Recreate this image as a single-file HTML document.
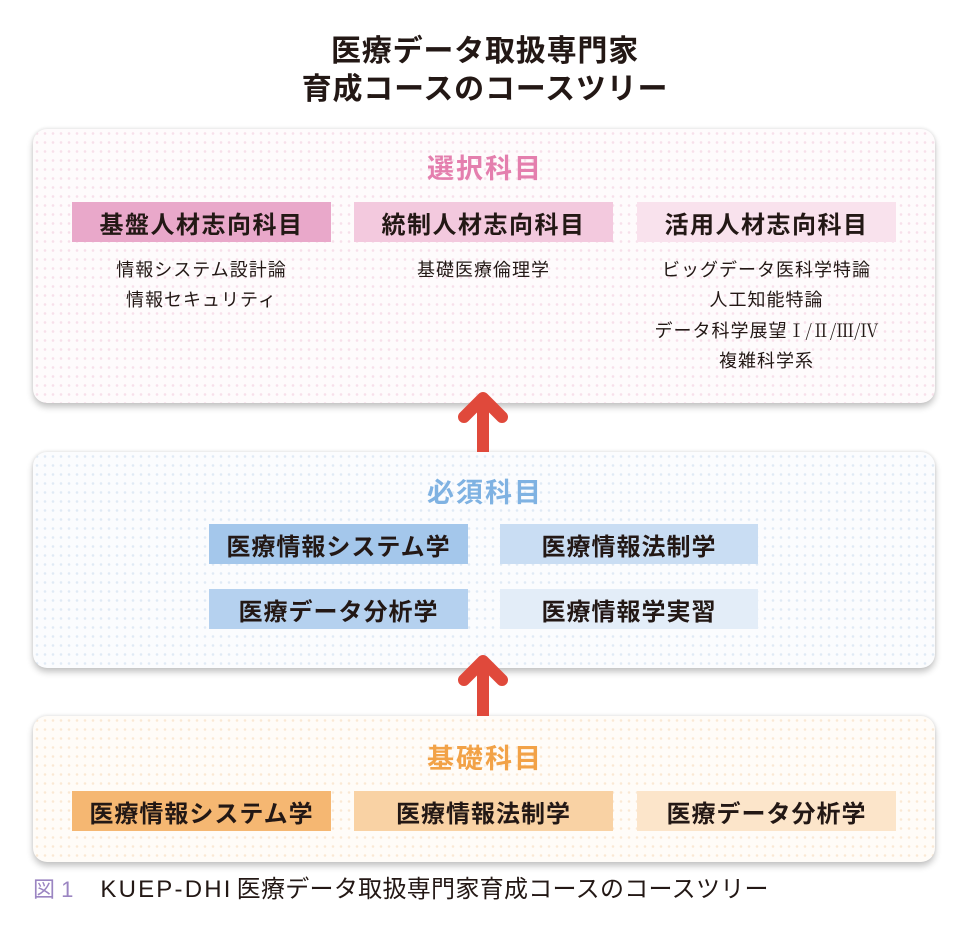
<!DOCTYPE html>
<html lang="ja">
<head>
<meta charset="utf-8">
<style>
  html,body{margin:0;padding:0;}
  body{width:970px;height:930px;position:relative;background:#ffffff;overflow:hidden;
       font-family:"Liberation Sans","Noto Sans CJK JP",sans-serif;color:#231815;}
  .abs{position:absolute;}
  .title{left:0;width:970px;text-align:center;font-weight:700;font-size:30px;letter-spacing:0.8px;line-height:38px;color:#231815;}
  .panel{position:absolute;left:33px;width:902px;border-radius:14px;
         box-shadow:0 4px 7px rgba(0,0,0,0.24),0 -1px 3px rgba(0,0,0,0.08);}
  .p-pink{top:129px;height:274px;background-color:#fefbfc;
          background-image:radial-gradient(circle,rgba(236,178,205,0.38) 1px,transparent 1.6px);
          background-size:8px 9px;}
  .p-blue{top:452px;height:216px;background-color:#fbfcfe;
          background-image:radial-gradient(circle,rgba(180,205,232,0.38) 1px,transparent 1.6px);
          background-size:8px 9px;}
  .p-orange{top:716px;height:146px;background-color:#fffcf8;
          background-image:radial-gradient(circle,rgba(245,210,170,0.45) 1px,transparent 1.6px);
          background-size:8px 9px;}
  .head{left:0;width:970px;text-align:center;font-weight:700;font-size:27px;letter-spacing:2px;line-height:34px;}
  .box{position:absolute;height:40px;display:flex;align-items:center;justify-content:center;
       font-weight:700;font-size:24px;letter-spacing:1px;color:#231815;}
  .hbox{width:259px;letter-spacing:1.5px;}
  .items{position:absolute;text-align:center;font-size:18px;letter-spacing:1px;line-height:30px;color:#231815;}
  .num{font-family:"Noto Serif CJK SC","Liberation Serif",serif;letter-spacing:0;}
  .cap{left:33px;top:875px;font-size:22px;line-height:30px;white-space:nowrap;}
</style>
</head>
<body>

<div class="abs title" style="top:33px;">医療データ取扱専門家</div>
<div class="abs title" style="top:71px;">育成コースのコースツリー</div>

<!-- Top panel -->
<div class="panel p-pink"></div>
<div class="abs head" style="top:152px;color:#e47fae;">選択科目</div>
<div class="box hbox" style="left:72px;top:202px;background:#e9a8ca;">基盤人材志向科目</div>
<div class="box hbox" style="left:354px;top:202px;background:#f3c9de;">統制人材志向科目</div>
<div class="box hbox" style="left:637px;top:202px;background:#f9e2ed;">活用人材志向科目</div>

<div class="items" style="left:72px;width:259px;top:255px;">情報システム設計論<br>情報セキュリティ</div>
<div class="items" style="left:354px;width:259px;top:255px;">基礎医療倫理学</div>
<div class="items" style="left:617px;width:299px;top:255px;">ビッグデータ医科学特論<br>人工知能特論<br>データ科学展望<span class="num">Ⅰ/Ⅱ/Ⅲ/Ⅳ</span><br>複雑科学系</div>

<!-- Middle panel -->
<div class="panel p-blue"></div>
<div class="abs head" style="top:476px;color:#7fb2e2;">必須科目</div>
<div class="box" style="left:209px;top:524px;width:259px;background:#a4c7eb;">医療情報システム学</div>
<div class="box" style="left:500px;top:524px;width:258px;background:#c9ddf3;">医療情報法制学</div>
<div class="box" style="left:209px;top:589px;width:259px;background:#b5d1ef;">医療データ分析学</div>
<div class="box" style="left:500px;top:589px;width:258px;background:#e3edf8;">医療情報学実習</div>

<!-- Bottom panel -->
<div class="panel p-orange"></div>
<div class="abs head" style="top:742px;color:#f2a247;">基礎科目</div>
<div class="box" style="left:72px;top:791px;width:259px;background:#f5b772;">医療情報システム学</div>
<div class="box" style="left:354px;top:791px;width:259px;background:#f9d2a4;">医療情報法制学</div>
<div class="box" style="left:637px;top:791px;width:259px;background:#fce5ca;">医療データ分析学</div>

<!-- Arrows -->
<svg class="abs" style="left:0;top:0;" width="970" height="930" viewBox="0 0 970 930">
  <g stroke="#e0493b" fill="none">
    <line x1="483" y1="402" x2="483" y2="452" stroke-width="12"/>
    <polyline points="464,417 483,398 502,417" stroke-width="12" stroke-linecap="round" stroke-linejoin="round"/>
    <line x1="483" y1="665" x2="483" y2="716" stroke-width="12"/>
    <polyline points="464,680 483,661 502,680" stroke-width="12" stroke-linecap="round" stroke-linejoin="round"/>
  </g>
</svg>

<!-- Caption -->
<div class="abs cap"><span style="color:#9b85c2;letter-spacing:0;">図 1</span><span style="display:inline-block;width:27px;"></span><span style="font-size:24px;letter-spacing:2.2px;">KUEP-DHI</span><span style="display:inline-block;width:4px;"></span><span style="font-size:24px;letter-spacing:0.3px;">医療データ取扱専門家育成コースのコースツリー</span></div>

</body>
</html>
